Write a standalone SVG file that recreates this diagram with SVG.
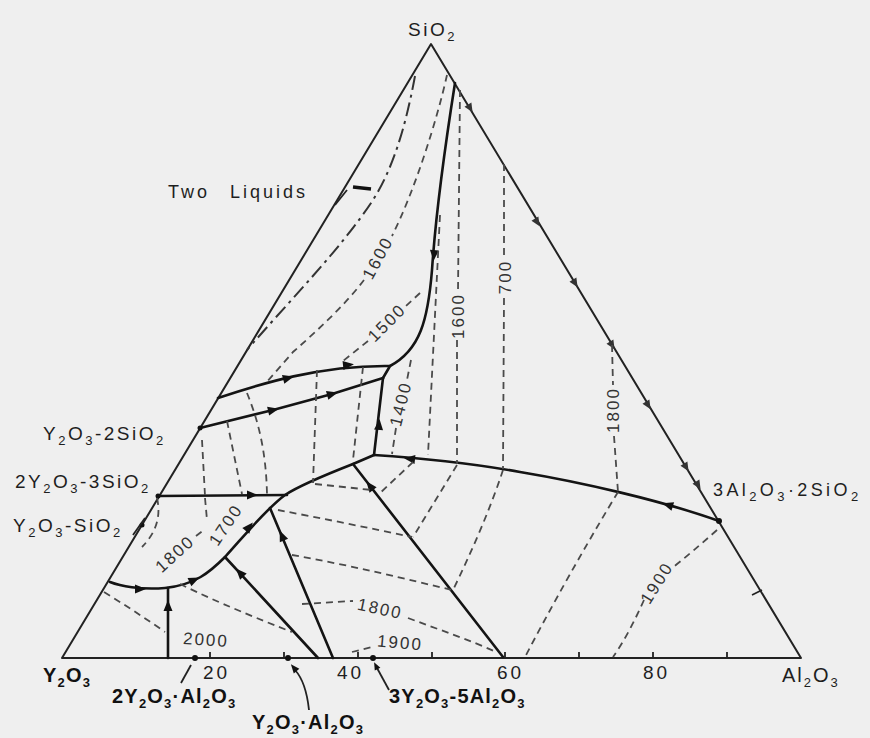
<svg xmlns="http://www.w3.org/2000/svg" xmlns:xlink="http://www.w3.org/1999/xlink" width="870" height="738" viewBox="0 0 870 738">
<style>
.edge{stroke:#222;stroke-width:2;fill:none;stroke-linejoin:round}
.bnd{stroke:#141414;stroke-width:2.6;fill:none;stroke-linejoin:round;stroke-linecap:round}
.iso{stroke:#4a4a4a;stroke-width:1.8;fill:none;stroke-dasharray:7 5}
.dd{stroke:#333;stroke-width:2;fill:none;stroke-dasharray:14 5 3 5}
.thin{stroke:#222;stroke-width:1.8;fill:none}
.lbl{font-family:"Liberation Sans",Arial,sans-serif;fill:#1e1e1e}
.cmp{font-size:19px;letter-spacing:2.5px}
.bold{font-size:20px;font-weight:bold;letter-spacing:1.2px;fill:#111}
.num{font-size:19px;letter-spacing:3px}
.isol{font-family:"Liberation Sans",Arial,sans-serif;font-size:17px;letter-spacing:2px;fill:#333;text-anchor:middle;dominant-baseline:central}
.s{font-size:13px}
</style>
<defs>
<path id="ah" d="M6,0 L-5,-4.5 L-5,4.5 Z" fill="#111"/>
<path id="ch" d="M5,0 L-4,-4 L-4,4 Z" fill="#333"/>
</defs>
<rect x="0" y="0" width="870" height="738" fill="#efefef"/>

<g id="connectors">
  <path class="edge" d="M62,658 L431,44 L801,658 Z"/>
  <path class="thin" d="M210,658 v-6 M284,658 v-6 M358,658 v-6 M432,658 v-6 M505,658 v-6 M579,658 v-6 M653,658 v-6 M727,658 v-6"/>
  <path class="bnd" d="M455,83 C446,140 436,210 432,270 C428,320 420,350 390,366 L383,378"/>
  <path class="bnd" d="M218,398 C260,384 320,365 390,366"/>
  <path class="bnd" d="M200,428 L273,410 L332,394 L383,378"/>
  <path class="bnd" d="M383,378 L374,455"/>
  <path class="bnd" d="M374,455 C420,458 470,463 520,472 C580,482 660,500 719,521"/>
  <path class="bnd" d="M374,455 L353,464 C330,473 300,485 285,495 C265,510 245,535 225,557 C210,572 195,585 165,588 C140,590 120,586 110,582"/>
  <path class="bnd" d="M158,496 L287,495"/>
  <path class="bnd" d="M353,464 L503,657"/>
  <path class="bnd" d="M270,508 L333,658"/>
  <path class="bnd" d="M225,557 L318,658"/>
  <path class="bnd" d="M168,658 L168,588"/>

  <use xlink:href="#ah" transform="translate(434,255) rotate(95)"/>
  <use xlink:href="#ah" transform="translate(288,378) rotate(-15)"/>
  <use xlink:href="#ah" transform="translate(348,365) rotate(-6)"/>
  <use xlink:href="#ah" transform="translate(273,410) rotate(-13)"/>
  <use xlink:href="#ah" transform="translate(332,394) rotate(-15)"/>
  <use xlink:href="#ah" transform="translate(379,425) rotate(-85)"/>
  <use xlink:href="#ah" transform="translate(410,459) rotate(-174)"/>
  <use xlink:href="#ah" transform="translate(668,505) rotate(-163)"/>
  <use xlink:href="#ah" transform="translate(370,486) rotate(-128)"/>
  <use xlink:href="#ah" transform="translate(282,536) rotate(-113)"/>
  <use xlink:href="#ah" transform="translate(240,573) rotate(-133)"/>
  <use xlink:href="#ah" transform="translate(168,606) rotate(-90)"/>
  <use xlink:href="#ah" transform="translate(249,527) rotate(-50)"/>
  <use xlink:href="#ah" transform="translate(194,580) rotate(-25)"/>
  <use xlink:href="#ah" transform="translate(140,589) rotate(0)"/>
  <use xlink:href="#ah" transform="translate(252,495) rotate(0)"/>
  <use xlink:href="#ch" transform="translate(470,108) rotate(59)"/>
  <use xlink:href="#ch" transform="translate(537,222) rotate(59)"/>
  <use xlink:href="#ch" transform="translate(575,283) rotate(59)"/>
  <use xlink:href="#ch" transform="translate(612,345) rotate(59)"/>
  <use xlink:href="#ch" transform="translate(648,405) rotate(59)"/>
  <use xlink:href="#ch" transform="translate(686,467) rotate(59)"/>
  <use xlink:href="#ch" transform="translate(698,485) rotate(59)"/>
  <path class="thin" d="M752,595 L762,590" stroke-width="3"/>

  <circle cx="195" cy="658" r="3" fill="#111"/>
  <circle cx="288" cy="658" r="3" fill="#111"/>
  <circle cx="373" cy="658" r="3" fill="#111"/>
  <circle cx="200" cy="428" r="2.5" fill="#111"/>
  <circle cx="158" cy="496" r="2.5" fill="#111"/>
  <circle cx="142" cy="525" r="2.5" fill="#111"/>
  <circle cx="719" cy="521" r="3" fill="#111"/>

  <path class="dd" d="M415,76 C405,130 392,170 373,200 C340,250 290,300 247,350"/>

  <path class="iso" d="M447,75 C437,120 415,190 392,236"/>
  <path class="iso" d="M364,280 C345,305 318,330 293,352 L266,383"/>
  <path class="iso" d="M420,293 L406,306"/>
  <path class="iso" d="M368,341 L343,361"/>
  <path class="iso" d="M411,360 L407,380"/>
  <path class="iso" d="M396,428 L392,454"/>
  <path class="iso" d="M440,215 L428,455"/>
  <path class="iso" d="M460,90 L458,292"/>
  <path class="iso" d="M457,340 L457,464"/>
  <path class="iso" d="M504,164 L504,256"/>
  <path class="iso" d="M504,298 L503,469"/>
  <path class="iso" d="M612,345 L613,385"/>
  <path class="iso" d="M614,436 L618,492"/>
  <path class="iso" d="M363,367 L353,460"/>
  <path class="iso" d="M317,370 L313,483"/>
  <path class="iso" d="M247,393 C258,420 266,450 267,494"/>
  <path class="iso" d="M227,421 L242,494"/>
  <path class="iso" d="M202,440 L205,496"/>
  <path class="iso" d="M205,498 L207,520"/>
  <path class="iso" d="M157,498 C161,515 157,532 142,547"/>
  <path class="iso" d="M196,536 L205,529"/>
  <path class="iso" d="M180,584 C200,594 240,612 292,632"/>
  <path class="iso" d="M104,592 C125,605 145,618 165,632"/>
  <path class="iso" d="M278,510 C320,518 370,528 412,537"/>
  <path class="iso" d="M292,555 C350,565 410,580 452,590"/>
  <path class="iso" d="M315,484 L372,490"/>
  <path class="iso" d="M302,604 L353,601"/>
  <path class="iso" d="M408,618 C440,630 470,640 496,652"/>
  <path class="iso" d="M352,652 L372,647"/>
  <path class="iso" d="M413,462 L378,495"/>
  <path class="iso" d="M457,465 L413,537"/>
  <path class="iso" d="M503,470 C490,510 470,555 453,590"/>
  <path class="iso" d="M618,492 C595,530 560,590 525,657"/>
  <path class="iso" d="M717,530 C700,545 685,558 672,568"/>
  <path class="iso" d="M644,600 C635,620 625,640 613,657"/>

  <path class="thin" d="M335,205 L347,190"/>
  <path d="M353,187 L371,189" stroke="#111" stroke-width="3.5"/>
  <path class="thin" d="M133,535 L145,518"/>
  <path class="thin" d="M181,683 L191,665" stroke-width="2.2"/>
  <path class="thin" d="M309,710 Q306,682 295,670" stroke-width="2.2"/>
  <use xlink:href="#ah" transform="translate(294,668) rotate(-130) scale(0.8)"/>
  <path class="thin" d="M389,690 L377,668" stroke-width="2.2"/>
  <use xlink:href="#ah" transform="translate(376,666) rotate(-117) scale(0.7)"/>
</g>

<g id="label-sio2"><text class="lbl cmp" x="408" y="36">SiO<tspan class="s" dy="5">2</tspan></text></g>
<g id="label-two-liquids"><text class="lbl" x="168" y="198" font-size="18" letter-spacing="3" word-spacing="12">Two Liquids</text></g>
<g id="label-y2o3-2sio2"><text class="lbl cmp" x="43" y="440">Y<tspan class="s" dy="5">2</tspan><tspan dy="-5">O</tspan><tspan class="s" dy="5">3</tspan><tspan dy="-5">-2SiO</tspan><tspan class="s" dy="5">2</tspan></text></g>
<g id="label-2y2o3-3sio2"><text class="lbl cmp" x="15" y="488" letter-spacing="3">2Y<tspan class="s" dy="5">2</tspan><tspan dy="-5">O</tspan><tspan class="s" dy="5">3</tspan><tspan dy="-5">-3SiO</tspan><tspan class="s" dy="5">2</tspan></text></g>
<g id="label-y2o3-sio2"><text class="lbl cmp" x="13" y="532">Y<tspan class="s" dy="5">2</tspan><tspan dy="-5">O</tspan><tspan class="s" dy="5">3</tspan><tspan dy="-5">-SiO</tspan><tspan class="s" dy="5">2</tspan></text></g>
<g id="label-mullite"><text class="lbl" x="713" y="496" font-size="18" letter-spacing="3.4" fill="#444">3Al<tspan class="s" dy="5">2</tspan><tspan dy="-5">O</tspan><tspan class="s" dy="5">3</tspan><tspan dy="-5">·2SiO</tspan><tspan class="s" dy="5">2</tspan></text></g>
<g id="label-y2o3"><text class="lbl bold" x="43" y="682" letter-spacing="2">Y<tspan class="s" dy="5">2</tspan><tspan dy="-5">O</tspan><tspan class="s" dy="5">3</tspan></text></g>
<g id="label-al2o3"><text class="lbl" x="782" y="682" font-size="20" letter-spacing="2">Al<tspan class="s" dy="5">2</tspan><tspan dy="-5">O</tspan><tspan class="s" dy="5">3</tspan></text></g>
<g id="axis-numbers">
  <text class="lbl num" x="203" y="679">20</text>
  <text class="lbl num" x="337" y="679">40</text>
  <text class="lbl num" x="497" y="679">60</text>
  <text class="lbl num" x="643" y="679" fill="#444">80</text>
</g>
<g id="label-2y2o3-al2o3"><text class="lbl bold" x="112" y="703">2Y<tspan class="s" dy="5">2</tspan><tspan dy="-5">O</tspan><tspan class="s" dy="5">3</tspan><tspan dy="-5">·Al</tspan><tspan class="s" dy="5">2</tspan><tspan dy="-5">O</tspan><tspan class="s" dy="5">3</tspan></text></g>
<g id="label-y2o3-al2o3"><text class="lbl bold" x="252" y="729">Y<tspan class="s" dy="5">2</tspan><tspan dy="-5">O</tspan><tspan class="s" dy="5">3</tspan><tspan dy="-5">·Al</tspan><tspan class="s" dy="5">2</tspan><tspan dy="-5">O</tspan><tspan class="s" dy="5">3</tspan></text></g>
<g id="label-3y2o3-5al2o3"><text class="lbl bold" x="389" y="703" letter-spacing="2">3Y<tspan class="s" dy="5">2</tspan><tspan dy="-5">O</tspan><tspan class="s" dy="5">3</tspan><tspan dy="-5">-5Al</tspan><tspan class="s" dy="5">2</tspan><tspan dy="-5">O</tspan><tspan class="s" dy="5">3</tspan></text></g>

<g id="isotherm-labels">
  <text class="isol" transform="translate(378,258) rotate(-62)">1600</text>
  <text class="isol" transform="translate(387,323) rotate(-45)">1500</text>
  <text class="isol" transform="translate(401,404) rotate(-76)">1400</text>
  <text class="isol" transform="translate(458,316) rotate(-90)">1600</text>
  <text class="isol" transform="translate(505,277) rotate(-90)">700</text>
  <text class="isol" transform="translate(613,410) rotate(-90)">1800</text>
  <text class="isol" transform="translate(657,583) rotate(-58)">1900</text>
  <text class="isol" transform="translate(380,609) rotate(12)">1800</text>
  <text class="isol" transform="translate(400,643) rotate(5)">1900</text>
  <text class="isol" transform="translate(206,640) rotate(4)">2000</text>
  <text class="isol" transform="translate(175,554) rotate(-42)">1800</text>
  <text class="isol" transform="translate(226,525) rotate(-56)">1700</text>
</g>
</svg>
